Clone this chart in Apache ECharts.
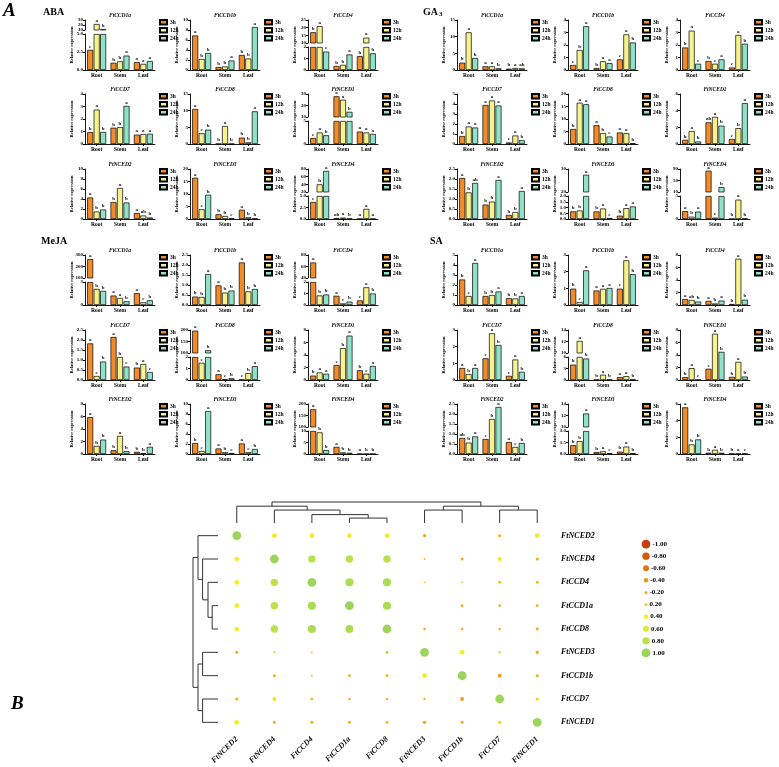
<!DOCTYPE html>
<html>
<head>
<meta charset="utf-8">
<script src="https://cdn.jsdelivr.net/npm/echarts@6/dist/echarts.min.js"></script>
<style>
html, body { margin: 0; padding: 0; background: #fff; }
#main { width: 779px; height: 767px; }
</style>
</head>
<body>
<div id="main"></div>
<script>
var tissues = ['Root', 'Stem', 'Leaf'];
var times = ['3h', '12h', '24h'];
var genes = ['FtCCD1a', 'FtCCD1b', 'FtCCD4', 'FtCCD7', 'FtCCD8', 'FtNCED1', 'FtNCED2', 'FtNCED3', 'FtNCED4'];

// values per gene: [Root, Stem, Leaf], each [3h, 12h, 24h]
var abaValues = [
	[[2.8, 22, 12], [1.0, 1.2, 2.0], [1.1, 0.85, 1.25]],
	[[6.9, 2.2, 3.4], [0.6, 0.7, 1.9], [3.0, 2.3, 8.6]],
	[[17, 21, 1.6], [0.35, 0.45, 1.35], [1.2, 13.5, 1.45]],
	[[0.95, 2.75, 0.96], [1.3, 1.35, 3.05], [0.75, 0.8, 0.82]],
	[[10.5, 3.2, 4.3], [0.05, 5.4, 0.05], [1.9, 0.5, 9.8]],
	[[1.3, 2.5, 1.9], [28, 25, 14.5], [2.7, 2.5, 2.2]],
	[[4.3, 1.5, 1.9], [3.4, 6.2, 3.3], [1.2, 0.7, 0.3]],
	[[16.5, 3.9, 9.7], [1.9, 1.2, 0.3], [3.7, 0.7, 0.2]],
	[[3.7, 40, 75], [0.2, 0.3, 0.1], [0.03, 2.2, 0.03]]
];
var abaLetters = [
	['c a b', 'b b a', 'a a a'], ['a b b', 'b b a', 'b b a'], ['b a c', 'b b a', 'b a b'],
	['b a b', 'b b a', 'a a a'], ['a c b', 'b a b', 'b b a'], ['c a b', 'a a b', 'a a a'],
	['a b b', 'b a b', 'a ab b'], ['a c b', 'b b c', 'a b b'], ['c b a', 'ab a b', 'a a a']
];
// y axis: [max, interval] or broken [lowMax, lowInterval, highMin, highMax, highInterval]
var abaAxes = [[5, 2.5, 10, 30, 10], [10, 2], [2, 1, 10, 25, 5], [4, 1], [15, 5], [5, 5, 10, 30, 10], [10, 2], [20, 5], [5, 2.5, 20, 80, 20]];

var ga3Values = [
	[[2.2, 11.3, 3.6], [1.1, 1.1, 0.5], [0.4, 0.6, 0.5]],
	[[0.4, 1.6, 3.5], [0.15, 0.7, 0.55], [0.85, 2.85, 2.2]],
	[[1.8, 3.15, 0.5], [0.72, 0.5, 0.85], [0.2, 2.8, 2.1]],
	[[0.8, 1.75, 1.65], [3.9, 4.35, 3.85], [0.15, 0.85, 0.37]],
	[[6.0, 16.5, 15.9], [7.5, 4.4, 3.0], [4.6, 4.3, 0.3]],
	[[0.5, 1.55, 0.3], [2.6, 3.25, 2.2], [0.6, 1.9, 4.9]],
	[[2.05, 1.33, 1.8], [0.72, 0.87, 1.95], [0.2, 0.35, 1.4]],
	[[0.66, 0.74, 27.5], [0.66, 0.91, 0.09], [0.29, 0.94, 1.09]],
	[[1.7, 0.5, 1.6], [84, 0.3, 27], [0.03, 4.2, 0.1]]
];
var ga3Letters = [
	['b a b', 'a a b', 'b a ab'], ['c b a', 'b a a', 'c a b'], ['b a c', 'b c a', 'c a b'],
	['b a a', 'a a a', 'c a b'], ['b a a', 'a b c', 'a a b'], ['b a b', 'ab a b', 'c b a'],
	['a b ab', 'b b a', 'b b a'], ['b b a', 'b a c', 'b a a'], ['a b a', 'a c b', 'b a b']
];
var ga3Axes = [[15, 5], [4, 1], [4, 1], [5, 1], [20, 5], [6, 2], [2.5, 0.5], [2, 0.5, 20, 30, 10], [5, 5, 10, 90, 40]];

var mejaValues = [
	[[264, 2.1, 1.85], [1.23, 0.92, 0.48], [1.54, 0.35, 0.62]],
	[[0.42, 0.4, 1.55], [0.98, 0.62, 0.72], [2.13, 0.68, 0.8]],
	[[67, 0.83, 0.91], [0.8, 0.14, 0.29], [0.4, 1.54, 1.0]],
	[[1.83, 0.2, 0.92], [2.15, 1.15, 0.67], [0.62, 0.8, 0.4]],
	[[197, 1.5, 112], [0.5, 0.07, 0.15], [0.03, 0.6, 1.2]],
	[[0.7, 1.2, 1.0], [2.4, 5.1, 7.1], [1.55, 1.0, 2.25]],
	[[5.9, 1.3, 2.3], [0.6, 2.9, 0.45], [0.35, 0.15, 1.15]],
	[[2.2, 0.6, 8.6], [1.1, 0.35, 0.2], [2.1, 0.35, 1.0]],
	[[177, 9.4, 1.7], [3.1, 0.7, 0.5], [0.05, 0.05, 0.05]]
];
var mejaLetters = [
	['a b b', 'a a b', 'a c b'], ['b b a', 'a b b', 'a b b'], ['a b b', 'a c b', 'c a b'],
	['a c b', 'a b c', 'b a c'], ['a c b', 'a c b', 'c b a'], ['b a a', 'c b a', 'b c a'],
	['a b b', 'b a b', 'b b a'], ['b c a', 'a b c', 'a c b'], ['a b b', 'a b b', 'a b b']
];
var mejaAxes = [[3, 3, 100, 300, 100], [2.5, 0.5], [2, 1, 40, 80, 20], [2.5, 0.5], [2, 1, 100, 200, 50], [8, 2], [8, 2], [10, 2], [10, 5, 100, 200, 50]];

var saValues = [
	[[2.55, 0.9, 4.2], [0.9, 1.0, 1.35], [0.68, 0.65, 0.9]],
	[[0.98, 0.18, 2.08], [0.87, 0.97, 1.02], [0.98, 2.68, 1.85]],
	[[0.95, 0.8, 0.55], [0.65, 0.25, 0.7], [0.15, 7.4, 0.85]],
	[[0.72, 0.35, 0.72], [1.3, 2.8, 2.1], [0.25, 1.23, 0.49]],
	[[4.0, 12.1, 5.6], [0.1, 1.37, 0.1], [0.77, 1.0, 0.15]],
	[[0.45, 1.9, 0.05], [1.8, 7.4, 4.5], [0.5, 2.9, 0.55]],
	[[0.8, 0.57, 0.88], [0.75, 1.75, 2.35], [0.6, 0.35, 0.55]],
	[[1.15, 1.68, 12.35], [0.25, 0.35, 0.1], [0.3, 0.97, 0.12]],
	[[5.6, 1.15, 1.75], [0.15, 0.5, 0.15], [0.05, 0.05, 0.05]]
];
var saLetters = [
	['b c a', 'b b a', 'b b a'], ['b c a', 'a a a', 'c a b'], ['a ab b', 'a b a', 'b a b'],
	['a b a', 'c a b', 'c a b'], ['b a b', 'b a b', 'a a b'], ['b a c', 'c a b', 'b a b'],
	['ab b a', 'c b a', 'a c b'], ['b b a', 'b a c', 'b a b'], ['a b b', 'b a b', 'b a c']
];
var saAxes = [[5, 1], [3, 1], [8, 2], [3, 1], [6, 3, 10, 14, 2], [8, 2], [2.5, 0.5], [3, 1.5, 10, 14, 2], [6, 2]];

// panel B: correlation matrix (rows and columns in dendrogram order)
var corrGenes = ['FtNCED2', 'FtNCED4', 'FtCCD4', 'FtCCD1a', 'FtCCD8', 'FtNCED3', 'FtCCD1b', 'FtCCD7', 'FtNCED1'];
var corrValues = [
	[1.0, 0.45, 0.42, 0.42, 0.42, -0.22, 0, -0.2, 0.45],
	[0.42, 1.0, 0.8, 0.8, 0.8, 0.06, -0.2, 0.36, -0.2],
	[0.42, 0.8, 1.0, 0.9, 0.9, 0.04, 0.03, -0.15, -0.18],
	[0.42, 0.8, 0.9, 1.0, 0.9, 0, -0.18, -0.15, -0.15],
	[0.42, 0.8, 0.9, 0.9, 1.0, -0.14, -0.15, -0.14, -0.18],
	[-0.2, 0.08, 0.04, 0, -0.14, 1.0, 0.45, -0.1, -0.22],
	[0, -0.2, 0.04, -0.18, -0.18, 0.45, 1.0, -0.3, -0.2],
	[-0.2, 0.33, -0.15, -0.15, -0.12, -0.1, -0.3, 1.0, 0.2],
	[0.45, -0.2, -0.2, -0.18, -0.18, -0.25, -0.2, 0.25, 1.0]
];
// merges: [left, right, height]; ids 9.. are the merged clusters
var dendroMerges = [[3, 4, 14], [2, 9, 24], [1, 10, 37], [0, 11, 48], [5, 6, 37], [7, 8, 37], [13, 14, 48], [12, 15, 60]];
var legendLevels = [-1.0, -0.8, -0.6, -0.4, -0.2, 0.2, 0.4, 0.6, 0.8, 1.0];

var serif = 'Liberation Serif';
var barColors = ['#F28B2A', '#F6F28C', '#8FE2C8'];
var PW = 70, PH = 50;

var option = {
	animation: false,
	backgroundColor: '#fff',
	title: [],
	legend: [],
	grid: [],
	xAxis: [],
	yAxis: [],
	series: [],
	graphic: []
};

function txt(x, y, s, font, extra) {
	var el = { type: 'text', x: x, y: y, style: { text: s, font: font, fill: '#000' } };
	if (extra) { for (var k in extra) el[k] = extra[k]; }
	option.graphic.push(el);
}

function addGrid(left, top, h, showX, min, max, interval) {
	option.grid.push({ left: left, top: top, width: PW, height: h });
	var g = option.grid.length - 1;
	var dec = interval % 1 === 0 ? 0 : 1;
	option.xAxis.push({
		gridIndex: g, type: 'category', data: tissues,
		axisLine: { show: showX, lineStyle: { color: '#000', width: 0.9 } },
		axisTick: { show: showX, alignWithLabel: true, length: 2, lineStyle: { color: '#000' } },
		axisLabel: { show: showX, fontSize: 5.5, fontFamily: serif, fontWeight: 'bold', color: '#000', margin: 3 }
	});
	option.yAxis.push({
		gridIndex: g, type: 'value', min: min, max: max, interval: interval,
		splitLine: { show: false },
		axisLine: { show: true, lineStyle: { color: '#000', width: 0.9 } },
		axisTick: { show: true, length: 2, lineStyle: { color: '#000' } },
		axisLabel: { fontSize: 5, fontFamily: serif, fontWeight: 'bold', color: '#000', margin: 2,
			formatter: function (v) { return v.toFixed(dec); } }
	});
	return g;
}

function addBars(g, vals, lets, pick) {
	for (var t = 0; t < 3; t++) {
		var data = tissues.map(function (n, k) {
			var m = pick(vals[k][t]);
			if (!m) return '-';
			return { value: m.value, label: { show: m.label, formatter: lets[k].split(' ')[t] } };
		});
		option.series.push({
			type: 'bar', name: times[t], xAxisIndex: g, yAxisIndex: g,
			barWidth: 6, barGap: '8%', clip: true,
			itemStyle: { color: barColors[t], borderColor: '#000', borderWidth: 0.7 },
			label: { position: 'top', distance: 1, fontSize: 5, fontFamily: serif, fontWeight: 'bold', color: '#000' },
			data: data
		});
	}
}

function addBarChart(left, bottom, gene, vals, lets, ax, frac) {
	var top = bottom - PH;
	option.title.push({
		text: gene, left: left + PW / 2, top: top - 7, textAlign: 'center', padding: 0,
		textStyle: { fontSize: 5.5, fontStyle: 'italic', fontWeight: 'bold', fontFamily: serif, color: '#000' }
	});
	option.legend.push({
		data: times, left: left + PW + 4, top: top - 1, orient: 'vertical', padding: 0,
		itemWidth: 7, itemHeight: 4.5, itemGap: 1.5, selectedMode: false, icon: 'rect',
		textStyle: { fontSize: 5.5, fontWeight: 'bold', fontFamily: serif, color: '#000', padding: [0, 0, 0, -2] }
	});
	txt(left - 13, top + PH / 2, 'Relative expression', 'bold 4.5px "Liberation Serif"',
		{ rotation: Math.PI / 2, style: { text: 'Relative expression', font: 'bold 4.5px "Liberation Serif"', fill: '#000', textAlign: 'center', textVerticalAlign: 'middle' } });
	if (ax.length === 2) {
		var g = addGrid(left, top, PH, true, 0, ax[0], ax[1]);
		addBars(g, vals, lets, function (v) { return { value: v, label: true }; });
	} else {
		var hLow = PH * frac[0], hHigh = PH * frac[1];
		var gl = addGrid(left, bottom - hLow, hLow, true, 0, ax[0], ax[1]);
		addBars(gl, vals, lets, function (v) {
			return v > ax[0] ? { value: ax[0], label: false } : { value: v, label: true };
		});
		var gh = addGrid(left, top, hHigh, false, ax[2], ax[3], ax[4]);
		addBars(gh, vals, lets, function (v) {
			return v > ax[2] ? { value: v, label: true } : null;
		});
	}
}

var panels = [
	{ values: abaValues, letters: abaLetters, axes: abaAxes, lefts: [85, 190, 308], bottoms: [70, 144, 219] },
	{ values: ga3Values, letters: ga3Letters, axes: ga3Axes, lefts: [457, 568, 680], bottoms: [70, 144, 219] },
	{ values: mejaValues, letters: mejaLetters, axes: mejaAxes, lefts: [85, 190, 308], bottoms: [305, 380, 454] },
	{ values: saValues, letters: saLetters, axes: saAxes, lefts: [457, 568, 680], bottoms: [305, 380, 454] }
];

panels.forEach(function (p, pi) {
	genes.forEach(function (gene, gi) {
		var frac = (pi === 0 && gi === 0) ? [0.72, 0.2] : [0.46, 0.46];
		addBarChart(p.lefts[gi % 3], p.bottoms[Math.floor(gi / 3)], gene, p.values[gi], p.letters[gi], p.axes[gi], frac);
	});
});

// panel labels
txt(3, 2, 'A', 'italic bold 19px "Liberation Serif"');
txt(43, 7, 'ABA', 'bold 10px "Liberation Serif"');
txt(423, 7, 'GA', 'bold 10px "Liberation Serif"');
txt(439, 11, '3', 'bold 7px "Liberation Serif"');
txt(41, 236, 'MeJA', 'bold 10px "Liberation Serif"');
txt(430, 236, 'SA', 'bold 10px "Liberation Serif"');
txt(11, 695, 'B', 'italic bold 19px "Liberation Serif"');

// ---- panel B ----
var stops = [
	[-1.0, [198, 61, 11]], [-0.8, [212, 88, 13]], [-0.6, [223, 118, 18]], [-0.4, [231, 148, 23]],
	[-0.2, [238, 171, 27]], [0, [242, 187, 30]], [0.2, [244, 204, 31]], [0.4, [246, 239, 30]],
	[0.6, [220, 232, 58]], [0.8, [189, 225, 75]], [1.0, [157, 212, 91]]
];
function colorOf(r) {
	for (var i = 0; i < stops.length - 1; i++) {
		if (r <= stops[i + 1][0]) {
			var f = (r - stops[i][0]) / (stops[i + 1][0] - stops[i][0]);
			var a = stops[i][1], b = stops[i + 1][1];
			return 'rgb(' + [0, 1, 2].map(function (j) { return Math.round(a[j] + f * (b[j] - a[j])); }).join(',') + ')';
		}
	}
	return 'rgb(157,212,91)';
}
function sizeOf(r) {
	var a = Math.abs(r);
	return a < 0.02 ? 0 : 1.6 + 7.2 * a;
}

var bLeft = 218, bTop = 524, bW = 338, bH = 210;
var gB = option.grid.length;
option.grid.push({ left: bLeft, top: bTop, width: bW, height: bH });
option.xAxis.push({
	gridIndex: gB, type: 'category', data: corrGenes,
	axisLine: { show: false }, axisTick: { show: false },
	axisLabel: { rotate: 45, margin: 4, fontSize: 8, fontStyle: 'italic', fontWeight: 'bold', fontFamily: serif, color: '#000' }
});
option.yAxis.push({
	gridIndex: gB, type: 'category', data: corrGenes, inverse: true, position: 'right',
	axisLine: { show: false }, axisTick: { show: false }, splitLine: { show: false },
	axisLabel: { margin: 5, fontSize: 8, fontStyle: 'italic', fontWeight: 'bold', fontFamily: serif, color: '#000' }
});
var corrData = [];
corrValues.forEach(function (row, i) {
	row.forEach(function (r, j) { corrData.push([j, i, r]); });
});
option.series.push({
	type: 'scatter', xAxisIndex: gB, yAxisIndex: gB, data: corrData,
	symbolSize: function (v) { return sizeOf(v[2]); },
	itemStyle: { color: function (p) { return colorOf(p.value[2]); }, opacity: 1 }
});

// dendrogram layout from the merges (leaf order = corrGenes order)
var nodePos = [], nodeH = [];
corrGenes.forEach(function (n, i) { nodePos[i] = i; nodeH[i] = 0; });
dendroMerges.forEach(function (m, k) {
	nodePos[9 + k] = (nodePos[m[0]] + nodePos[m[1]]) / 2;
	nodeH[9 + k] = m[2];
});
var rootH = dendroMerges[dendroMerges.length - 1][2];
var posMin = -0.5, posMax = corrGenes.length - 0.5;

function dendroSeries(g, horizontal) {
	option.series.push({
		type: 'custom', xAxisIndex: g, yAxisIndex: g,
		data: dendroMerges.map(function (m) { return horizontal ? [m[2], nodePos[m[0]]] : [nodePos[m[0]], m[2]]; }),
		renderItem: function (params, api) {
			var m = dendroMerges[params.dataIndex];
			var raw = [[nodePos[m[0]], nodeH[m[0]]], [nodePos[m[0]], m[2]], [nodePos[m[1]], m[2]], [nodePos[m[1]], nodeH[m[1]]]];
			var pts = raw.map(function (p) { return api.coord(horizontal ? [p[1], p[0]] : p); });
			return { type: 'polyline', shape: { points: pts }, style: { stroke: '#333', fill: null, lineWidth: 1 } };
		}
	});
}

// column dendrogram
var gTop = option.grid.length;
option.grid.push({ left: bLeft, top: 502, width: bW, height: 21 });
option.xAxis.push({ gridIndex: gTop, type: 'value', min: posMin, max: posMax, show: false });
option.yAxis.push({ gridIndex: gTop, type: 'value', min: 0, max: rootH, show: false });
dendroSeries(gTop, false);

// row dendrogram
var gRow = option.grid.length;
option.grid.push({ left: 193, top: bTop, width: 25, height: bH });
option.xAxis.push({ gridIndex: gRow, type: 'value', min: 0, max: rootH, inverse: true, show: false });
option.yAxis.push({ gridIndex: gRow, type: 'value', min: posMin, max: posMax, inverse: true, show: false });
dendroSeries(gRow, true);

// size / colour key
var gKey = option.grid.length;
option.grid.push({ left: 640, top: 538, width: 12, height: 121 });
option.xAxis.push({ gridIndex: gKey, type: 'category', data: ['k'], show: false });
option.yAxis.push({ gridIndex: gKey, type: 'category', data: legendLevels.map(String), inverse: true, show: false });
option.series.push({
	type: 'scatter', xAxisIndex: gKey, yAxisIndex: gKey,
	data: legendLevels.map(function (v, k) { return [0, k, v]; }),
	symbolSize: function (v) { return sizeOf(v[2]); },
	itemStyle: { color: function (p) { return colorOf(p.value[2]); }, opacity: 1 },
	label: {
		show: true, position: 'right', distance: 2, fontSize: 7, fontWeight: 'bold', fontFamily: serif, color: '#000',
		formatter: function (p) { return p.value[2].toFixed(2); }
	}
});

var myChart = echarts.init(document.getElementById('main'));
myChart.setOption(option);
</script>
</body>
</html>
